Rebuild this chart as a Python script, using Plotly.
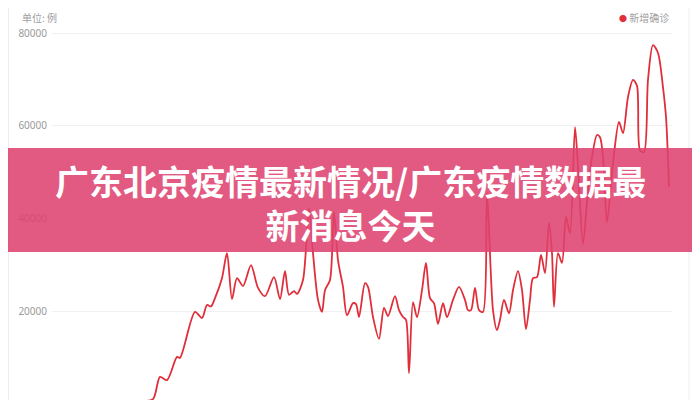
import plotly.graph_objects as go

# Day index and daily new confirmed cases
days = [4, 38, 68, 88, 101, 108, 115, 125, 128, 143, 150, 155, 159, 163, 170, 175, 180, 185,
        191, 199, 206, 213, 222, 228, 233, 237, 242, 245, 251, 257, 261, 266, 270, 273, 278,
        282, 286, 291, 295, 301, 304, 307, 313, 316, 321, 327, 332, 336, 343, 347, 351, 354,
        357, 361, 365, 370, 374, 378, 382, 386, 391, 395, 401, 407, 413, 416, 419, 423, 427,
        431, 435, 441, 445, 448, 452, 457, 461, 466, 470, 474, 478, 481, 485, 489, 493, 497,
        500, 502, 506, 510, 514, 518, 523, 526, 531, 536, 540, 545, 548, 551, 555, 561, 567,
        571, 576, 581, 585, 588, 592, 596, 601, 606, 611, 614, 617]
cases = [100, 200, 300, 500, 1000, 5800, 5100, 10100, 9900, 19800, 18500, 21300, 21000,
         22800, 27100, 32500, 22600, 27100, 25400, 29900, 25000, 23200, 27300, 22600, 28600,
         23500, 24300, 23700, 26700, 42200, 32500, 22400, 19800, 24500, 26700, 41400, 31000,
         25200, 19100, 21700, 21500, 18700, 26000, 25200, 18700, 14000, 20700, 18900, 23200,
         20200, 18700, 18100, 6600, 21900, 18700, 24500, 30400, 22800, 21700, 17200, 21700,
         18700, 22400, 25200, 22400, 20200, 20200, 25000, 20200, 19800, 45500, 20200, 15900,
         18100, 22400, 19500, 24500, 28600, 24500, 16100, 22400, 27100, 27300, 32100, 28200,
         39000, 32500, 20900, 32500, 30400, 40300, 36800, 59700, 51100, 34500, 46100, 53200,
         58000, 57500, 53200, 39200, 51900, 60800, 58400, 66200, 69900, 68600, 54700, 54300,
         69900, 77400, 75700, 68300, 61900, 46800]

y_ticks = [20000, 40000, 60000, 80000]
series_name = "新增确诊"
unit_label = "单位: 例"
title_line1 = "广东北京疫情最新情况/广东疫情数据最"
title_line2 = "新消息今天"

# page offset (browser body margin) and figure size
OFF = 8
W, H = 700 - OFF, 400 - OFF


def px_x(p):
    return (p - OFF) / W


def px_y(p):
    return 1 - (p - OFF) / H


# value scale: 0 at screen y 403.7, 4.633 px per 1000
def val_at(py):
    return (403.7 - py) * 1000 / 4.633


fig = go.Figure()
fig.add_trace(go.Scatter(
    x=days, y=cases, mode="lines", name=series_name,
    line=dict(color="#e02f3b", width=1.8, shape="spline", smoothing=0.8),
    showlegend=False, hoverinfo="skip",
))

fig.update_layout(
    width=W, height=H,
    margin=dict(l=0, r=0, t=0, b=0),
    paper_bgcolor="white", plot_bgcolor="white",
    font=dict(family="Noto Sans CJK SC, Noto Sans, sans-serif"),
    xaxis=dict(domain=[px_x(52), px_x(672)], range=[0, 620], visible=False),
    yaxis=dict(
        domain=[0, 1], range=[val_at(400), val_at(OFF)], tickvals=y_ticks,
        ticktext=[str(v) for v in y_ticks],
        showgrid=True, gridcolor="#f1f1f1", gridwidth=1, zeroline=False,
        showline=False, ticks="", automargin=False,
        tickfont=dict(size=10, color="#9a9a9a", family="Noto Sans, sans-serif"),
        ticklabelstandoff=4,
    ),
    showlegend=False,
)

# card borders
for bx in (8.5, 689):
    fig.add_shape(type="line", xref="paper", yref="paper",
                  x0=px_x(bx), x1=px_x(bx), y0=0, y1=1,
                  line=dict(color="#eeeeee", width=1), layer="below")

# unit label
fig.add_annotation(xref="paper", yref="paper", x=px_x(20), y=1,
                   xanchor="left", yanchor="top", showarrow=False,
                   text=unit_label, font=dict(size=10, color="#a0a0a0"))
# legend
fig.add_annotation(xref="paper", yref="paper", x=px_x(617), y=1,
                   xanchor="left", yanchor="top", showarrow=False,
                   text="<span style='color:#e02f3b;font-size:8px'>●</span> " + series_name,
                   font=dict(size=10, color="#a0a0a0"))

# banner
fig.add_shape(type="rect", xref="paper", yref="paper",
              x0=0, x1=1, y0=px_y(252), y1=px_y(148),
              fillcolor="rgba(222,65,110,0.87)", line=dict(width=0), layer="above")
fig.add_annotation(xref="paper", yref="paper", x=px_x(350), y=px_y(202),
                   xanchor="center", yanchor="middle", showarrow=False,
                   text="<b>" + title_line1 + "<br>" + title_line2 + "</b>",
                   font=dict(size=34, color="white", family="Noto Sans CJK SC"))

fig.write_html("out.html")
